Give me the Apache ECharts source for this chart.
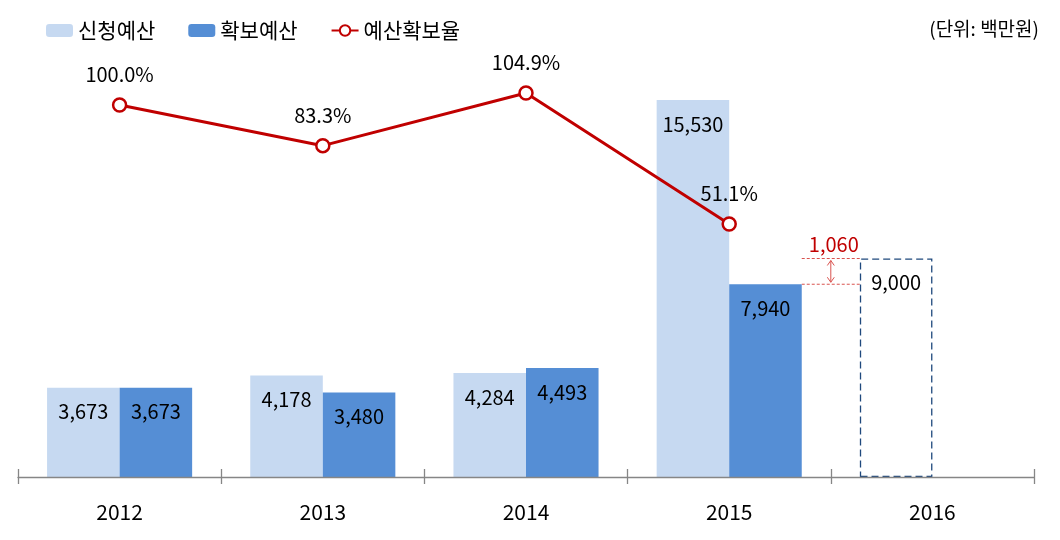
<!DOCTYPE html>
<html>
<head>
<meta charset="utf-8">
<script src="https://cdn.jsdelivr.net/npm/echarts@6/dist/echarts.min.js"></script>
<style>html,body{margin:0;padding:0;background:#fff;}#c{width:1060px;height:540px;}</style>
</head>
<body>
<div id="c"></div>
<script>
const categories = ['2012', '2013', '2014', '2015', '2016'];
const requested = [3673, 4178, 4284, 15530, 9000];
const secured = [3673, 3480, 4493, 7940, null];
const rate = [100.0, 83.3, 104.9, 51.1, null];
const unitText = '(단위: 백만원)';
const planIndex = 4; // 2016 planned (dashed) bar

const FONT = "'Noto Sans CJK KR', 'Noto Sans', sans-serif";
const GAP = 0.286;

const chart = echarts.init(document.getElementById('c'), null, {renderer: 'canvas'});

const fmt = v => Number(v).toLocaleString('en-US');

const requestedData = requested.map((v, i) => i === planIndex ? {
  value: v,
  itemStyle: {color: 'rgba(0,0,0,0)', borderColor: '#1f497d', borderType: [7, 4], borderWidth: 1.3}
} : v);

chart.setOption({
  animation: false,
  textStyle: {fontFamily: FONT},
  title: {
    text: unitText, right: 16, top: 14,
    textStyle: {fontSize: 19, fontWeight: 'normal', color: '#000', fontFamily: FONT}
  },
  legend: {
    left: 41, top: 15, itemWidth: 27, itemHeight: 13, itemGap: 33,
    textStyle: {fontSize: 21, color: '#000', fontFamily: FONT},
    data: ['신청예산', '확보예산', '예산확보율']
  },
  grid: {left: 18, right: 26, top: 40, bottom: 63},
  xAxis: [{
    type: 'category', data: categories,
    axisLine: {onZero: false, lineStyle: {color: '#868686', width: 1.3}},
    axisTick: {show: true, length: 7, lineStyle: {color: '#868686', width: 1.3}},
    axisLabel: {fontSize: 21, color: '#000', margin: 25, fontFamily: FONT},
    z: 5
  }, {
    type: 'category', data: categories, position: 'bottom',
    axisLine: {show: false, onZero: false},
    axisTick: {show: true, inside: true, length: 8, lineStyle: {color: '#868686', width: 1.3}},
    axisLabel: {show: false}
  }],
  yAxis: [
    {type: 'value', min: 0, max: 18000, show: false, splitLine: {show: false}},
    {type: 'value', min: -52.8, max: 126.7, show: false, splitLine: {show: false}}
  ],
  series: [{
    name: '신청예산', type: 'bar', data: requestedData,
    barGap: '0%', barCategoryGap: (GAP * 100) + '%',
    itemStyle: {color: '#c6d9f1'},
    label: {show: true, position: 'insideTop', distance: 14, fontSize: 20, color: '#000',
      fontFamily: FONT, formatter: p => fmt(p.value)}
  }, {
    name: '확보예산', type: 'bar', data: secured,
    itemStyle: {color: '#558ed5'},
    label: {show: true, position: 'insideTop', distance: 14, fontSize: 20, color: '#000',
      fontFamily: FONT, formatter: p => fmt(p.value)}
  }, {
    name: '예산확보율', type: 'line', yAxisIndex: 1, data: rate,
    symbol: 'circle', symbolSize: 13,
    lineStyle: {color: '#c00000', width: 3},
    itemStyle: {color: '#ffffff', borderColor: '#c00000', borderWidth: 2.5},
    label: {show: true, position: 'top', distance: 13, fontSize: 20, color: '#000',
      fontFamily: FONT, formatter: p => p.value.toFixed(1) + '%'}
  }]
});

// Annotation: difference between 2016 plan and 2015 secured
const x1 = chart.convertToPixel({xAxisIndex: 0}, categories[planIndex - 1]);
const x2 = chart.convertToPixel({xAxisIndex: 0}, categories[planIndex]);
const band = x2 - x1;
const barW = band * (1 - GAP) / 2;
const yTop = chart.convertToPixel({yAxisIndex: 0}, requested[planIndex]);
const yLow = chart.convertToPixel({yAxisIndex: 0}, secured[planIndex - 1]);
const xs = x1 + barW, xe = x2 - barW, xm = (x1 + x2) / 2;
const diff = requested[planIndex] - secured[planIndex - 1];
const red = '#d9534f';
chart.setOption({
  graphic: [
    {type: 'line', shape: {x1: xs, y1: yTop, x2: xe, y2: yTop}, style: {stroke: red, lineWidth: 1, lineDash: [3, 2]}},
    {type: 'line', shape: {x1: xs, y1: yLow, x2: xe, y2: yLow}, style: {stroke: red, lineWidth: 1, lineDash: [3, 2]}},
    {type: 'line', shape: {x1: xm, y1: yTop + 2, x2: xm, y2: yLow - 2}, style: {stroke: red, lineWidth: 1}},
    {type: 'polyline', shape: {points: [[xm - 3.5, yTop + 7], [xm, yTop + 2], [xm + 3.5, yTop + 7]]}, style: {stroke: red, lineWidth: 1, fill: null}},
    {type: 'polyline', shape: {points: [[xm - 3.5, yLow - 7], [xm, yLow - 2], [xm + 3.5, yLow - 7]]}, style: {stroke: red, lineWidth: 1, fill: null}},
    {type: 'text', x: xm + 3, y: yTop - 4, style: {text: fmt(diff), fill: '#c00000', font: '20px ' + FONT, textAlign: 'center', textVerticalAlign: 'bottom'}}
  ]
});
</script>
</body>
</html>
